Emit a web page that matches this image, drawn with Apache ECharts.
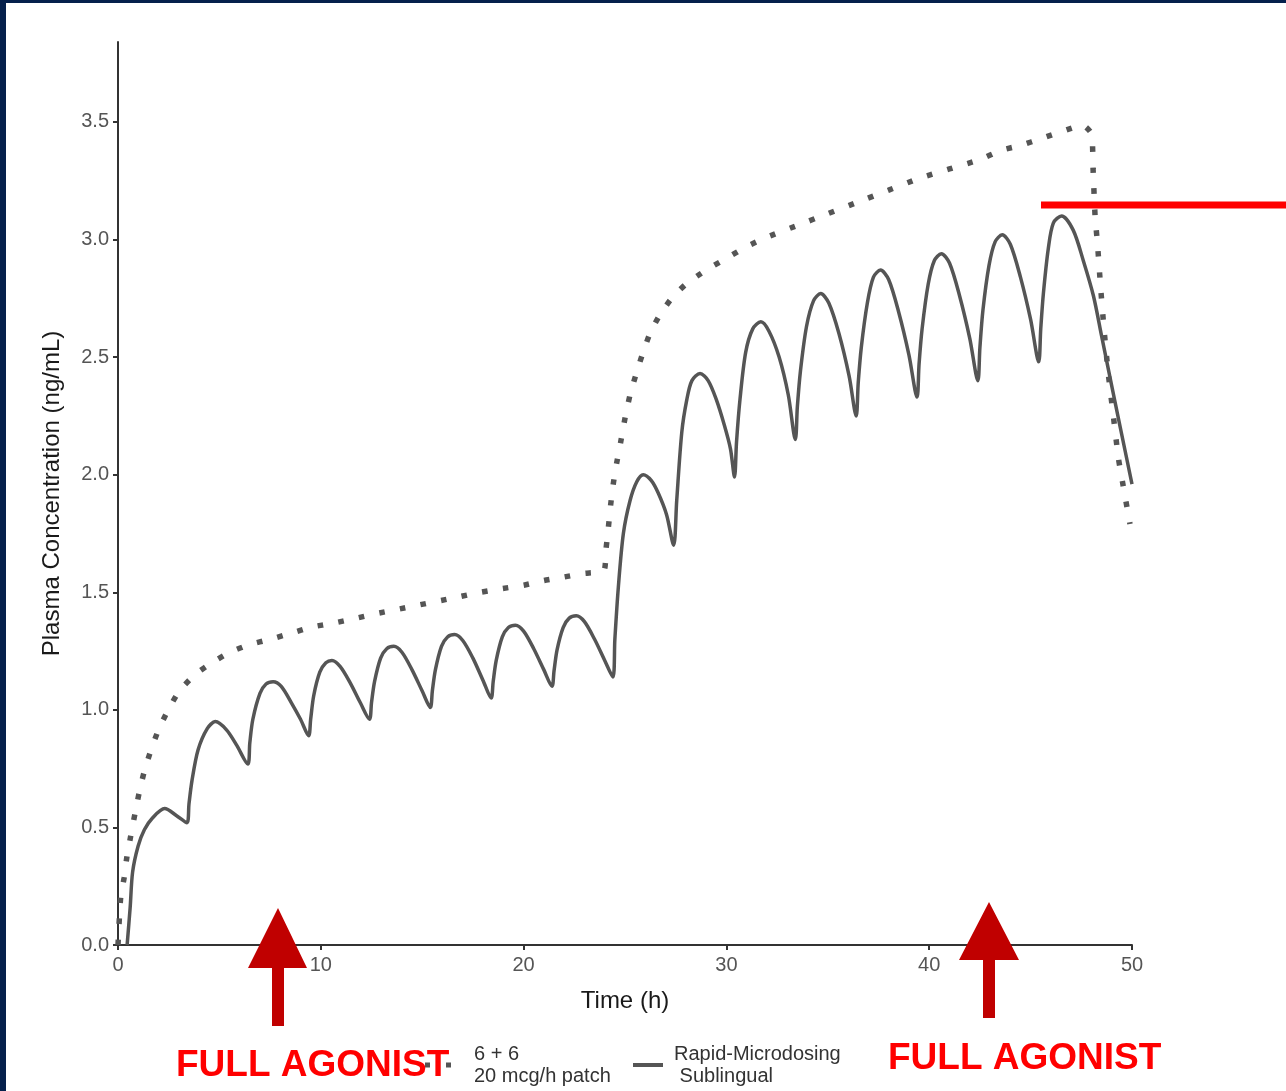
<!DOCTYPE html>
<html>
<head>
<meta charset="utf-8">
<script src="https://cdn.jsdelivr.net/npm/echarts@6/dist/echarts.min.js"></script>
<style>
html,body{margin:0;padding:0;background:#fff;}
#chart{width:1286px;height:1091px;}
</style>
</head>
<body>
<div id="chart"></div>
<script>
// ---- data ----
const yTickValues = [0, 0.5, 1, 1.5, 2, 2.5, 3, 3.5];
const xTickValues = [0, 10, 20, 30, 40, 50];

const patchName = '6 + 6\n20 mcg/h patch';
const sublingualName = 'Rapid-Microdosing\n Sublingual';

const patchHours = [0, 0.13, 0.3, 0.43, 0.62, 0.84, 1.05, 1.3, 1.63, 2.02, 2.48, 3.02, 3.8, 4.62, 5.52, 6.47,
  7.5, 8.5, 9.55, 10.57, 11.6, 12.67, 13.7, 14.73, 15.7, 16.78, 17.8, 18.74, 20, 21, 22, 22.95, 23.96,
  24.06, 24.18, 24.29, 24.42, 24.59, 24.79, 25.0, 25.25, 25.52, 25.85, 26.23, 26.72, 27.3, 28, 29, 30, 31, 32,
  33.5, 35, 36.5, 38, 39.5, 41, 42.5, 43.57, 44.5, 45.54, 46.56, 47.57, 48.0, 48.08, 48.18, 48.3, 48.45,
  48.63, 48.83, 49.08, 49.33, 49.53, 49.9];
const patchConc = [0, 0.20, 0.285, 0.37, 0.46, 0.56, 0.65, 0.74, 0.83, 0.92, 1.00, 1.08, 1.15, 1.20, 1.245, 1.277,
  1.30, 1.325, 1.352, 1.368, 1.387, 1.408, 1.426, 1.444, 1.461, 1.48, 1.499, 1.513, 1.53, 1.55, 1.565, 1.58, 1.593,
  1.68, 1.775, 1.87, 1.96, 2.05, 2.14, 2.24, 2.34, 2.42, 2.51, 2.60, 2.68, 2.75, 2.81, 2.87, 2.92, 2.97, 3.01,
  3.06, 3.11, 3.16, 3.21, 3.26, 3.30, 3.34, 3.38, 3.40, 3.43, 3.46, 3.486, 3.45, 3.30, 3.10, 2.98, 2.80,
  2.61, 2.43, 2.25, 2.07, 1.97, 1.79];

const sublingualHours = [0.45, 0.6, 0.72, 0.99, 1.3, 1.7, 2.3, 2.89, 3.4,
  3.5, 3.65, 3.95, 4.4, 4.8, 5.35, 5.85, 6.4,
  6.5, 6.65, 7.0, 7.3, 7.65, 8.05, 8.55, 9.0, 9.4,
  9.5, 9.65, 9.95, 10.25, 10.55, 10.95, 11.45, 11.95, 12.4,
  12.5, 12.65, 12.95, 13.25, 13.6, 14.0, 14.5, 15.0, 15.4,
  15.5, 15.65, 15.95, 16.25, 16.6, 17.0, 17.5, 18.0, 18.4,
  18.5, 18.65, 18.95, 19.25, 19.6, 20.0, 20.5, 21.0, 21.4,
  21.5, 21.65, 21.95, 22.25, 22.6, 23.0, 23.5, 24.0, 24.4,
  24.5, 24.67, 24.92, 25.25, 25.58, 25.9, 26.3, 26.65, 27.05, 27.4,
  27.55, 27.8, 28.05, 28.3, 28.7, 29.1, 29.5, 29.9, 30.2, 30.4,
  30.5, 30.67, 30.95, 31.3, 31.7, 32.1, 32.6, 33.05, 33.4,
  33.5, 33.65, 33.95, 34.3, 34.65, 35.05, 35.55, 36.05, 36.4,
  36.5, 36.65, 36.95, 37.25, 37.6, 38.0, 38.5, 39.0, 39.4,
  39.5, 39.65, 39.95, 40.25, 40.6, 41.0, 41.5, 42.0, 42.4,
  42.5, 42.65, 42.95, 43.25, 43.6, 44.0, 44.5, 45.0, 45.4,
  45.5, 45.63, 45.87, 46.12, 46.53, 47.1, 47.6, 48.1, 48.5, 48.9, 49.4, 50.0];
const sublingualConc = [0, 0.16, 0.31, 0.42, 0.49, 0.54, 0.58, 0.55, 0.52,
  0.60, 0.70, 0.83, 0.92, 0.95, 0.915, 0.85, 0.77,
  0.86, 0.96, 1.07, 1.11, 1.12, 1.10, 1.03, 0.96, 0.89,
  0.96, 1.06, 1.16, 1.20, 1.21, 1.185, 1.115, 1.03, 0.96,
  1.03, 1.12, 1.22, 1.26, 1.27, 1.245, 1.17, 1.08, 1.01,
  1.08, 1.17, 1.27, 1.31, 1.32, 1.295, 1.22, 1.125, 1.05,
  1.12, 1.21, 1.31, 1.35, 1.36, 1.335, 1.26, 1.17, 1.10,
  1.165, 1.255, 1.35, 1.39, 1.40, 1.375, 1.30, 1.21, 1.14,
  1.30, 1.52, 1.75, 1.89, 1.97, 2.00, 1.975, 1.92, 1.83, 1.70,
  1.89, 2.18, 2.32, 2.40, 2.43, 2.40, 2.32, 2.21, 2.11, 1.99,
  2.14, 2.32, 2.52, 2.62, 2.65, 2.61, 2.50, 2.34, 2.15,
  2.29, 2.44, 2.63, 2.74, 2.77, 2.73, 2.60, 2.42, 2.25,
  2.39, 2.54, 2.73, 2.84, 2.87, 2.83, 2.69, 2.51, 2.33,
  2.47, 2.62, 2.81, 2.91, 2.94, 2.90, 2.76, 2.58, 2.40,
  2.54, 2.70, 2.89, 2.99, 3.02, 2.98, 2.84, 2.66, 2.48,
  2.62, 2.77, 2.96, 3.07, 3.10, 3.04, 2.91, 2.76, 2.59, 2.42, 2.21, 1.96];

// ---- build chart ----
const zip = (a, b) => a.map((x, i) => [x, b[i]]);
const FONT = '"Liberation Sans", Arial, sans-serif';

const chart = echarts.init(document.getElementById('chart'), null, {renderer: 'canvas'});
chart.setOption({
  animation: false,
  backgroundColor: '#ffffff',
  grid: {left: 118, right: 154, top: 42, bottom: 146, containLabel: false},
  xAxis: {
    type: 'value', min: 0, max: 50,
    name: 'Time (h)', nameLocation: 'middle', nameGap: 44,
    nameTextStyle: {fontFamily: FONT, fontSize: 24, color: '#1a1a1a'},
    axisLine: {show: true, lineStyle: {color: '#333', width: 2}},
    axisTick: {show: true, length: 5, lineStyle: {color: '#333', width: 2}, customValues: xTickValues},
    axisLabel: {fontFamily: FONT, fontSize: 20, color: '#555', margin: 10, customValues: xTickValues},
    splitLine: {show: false}
  },
  yAxis: {
    type: 'value', min: 0, max: 3.84,
    name: 'Plasma Concentration (ng/mL)', nameLocation: 'middle', nameGap: 54,
    nameTextStyle: {fontFamily: FONT, fontSize: 24, color: '#1a1a1a'},
    axisLine: {show: true, lineStyle: {color: '#333', width: 2}},
    axisTick: {show: true, length: 5, lineStyle: {color: '#333', width: 2}, customValues: yTickValues},
    axisLabel: {fontFamily: FONT, fontSize: 20, color: '#555', margin: 9,
      customValues: yTickValues, formatter: v => v.toFixed(1)},
    splitLine: {show: false}
  },
  legend: [
    {data: [{name: patchName, icon: 'path://M0,0H5V5H0ZM21,0H26V5H21Z'}], left: 420, top: 1038,
     itemWidth: 26, itemHeight: 5, itemGap: 0,
     textStyle: {fontFamily: FONT, fontSize: 20, color: '#333', lineHeight: 22, padding: [0, 0, 0, 18]}},
    {data: [{name: sublingualName, icon: 'rect'}], left: 628, top: 1038,
     itemWidth: 30, itemHeight: 4, itemGap: 0,
     textStyle: {fontFamily: FONT, fontSize: 20, color: '#333', lineHeight: 22, padding: [0, 0, 0, 6]}}
  ],
  series: [
    {name: patchName, type: 'line', data: zip(patchHours, patchConc), symbol: 'none', smooth: 0.2,
     lineStyle: {color: '#555555', width: 5.5, type: [5.5, 15.5], cap: 'butt'}, itemStyle: {color: '#555555'}, z: 2},
    {name: sublingualName, type: 'line', data: zip(sublingualHours, sublingualConc), symbol: 'none', smooth: 0.3,
     lineStyle: {color: '#555555', width: 3.5, join: 'round'}, itemStyle: {color: '#555555'}, z: 3}
  ],
  graphic: [
    {type: 'rect', left: 0, top: 0, shape: {x: 0, y: 0, width: 6, height: 1091}, style: {fill: '#05204c'}, z: 100},
    {type: 'rect', left: 0, top: 0, shape: {x: 0, y: 0, width: 1286, height: 3}, style: {fill: '#05204c'}, z: 100},
    {type: 'line', shape: {x1: 1041, y1: 205, x2: 1286, y2: 205}, style: {stroke: '#ff0000', lineWidth: 7}, z: 100},
    {type: 'polygon', shape: {points: [[278, 908], [307, 968], [284, 968], [284, 1026], [272, 1026], [272, 968], [248, 968]]},
     style: {fill: '#c00000'}, z: 100},
    {type: 'polygon', shape: {points: [[989, 902], [1019, 960], [995, 960], [995, 1018], [983, 1018], [983, 960], [959, 960]]},
     style: {fill: '#c00000'}, z: 100},
    {type: 'text', x: 176, y: 1066, style: {text: 'FULL AGONIST', fill: '#ff0000',
      font: 'bold 37px ' + FONT, verticalAlign: 'middle', align: 'left'}, z: 100},
    {type: 'text', x: 888, y: 1059, style: {text: 'FULL AGONIST', fill: '#ff0000',
      font: 'bold 37px ' + FONT, verticalAlign: 'middle', align: 'left'}, z: 100}
  ]
});
</script>
</body>
</html>
